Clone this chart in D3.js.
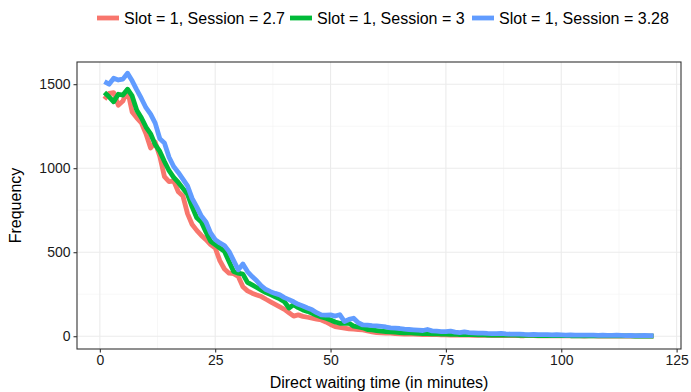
<!DOCTYPE html>
<html>
<head>
<meta charset="utf-8">
<script src="https://cdn.jsdelivr.net/npm/d3@7"></script>
<style>
  body { margin: 0; background: #fff; }
  #chart { width: 691px; height: 392px; }
  text { font-family: "Liberation Sans", Arial, sans-serif; }
</style>
</head>
<body>
<div id="chart"></div>
<script>
// minutes 1..120
const minutes = d3.range(1, 121);

const seriesNames = ["Slot = 1, Session = 2.7", "Slot = 1, Session = 3", "Slot = 1, Session = 3.28"];
const seriesColors = ["#F8766D", "#00BA38", "#619CFF"];

const session27 = [
  1410, 1445, 1450, 1375, 1400, 1465, 1335, 1300, 1270, 1205,
  1120, 1155, 1070, 950, 920, 925, 860, 835, 730, 665,
  630, 600, 575, 545, 525, 450, 400, 375, 372, 355,
  295, 270, 256, 245, 236, 220, 205, 190, 175, 160,
  140, 120, 127, 118, 113, 108, 102, 97, 85, 70,
  57, 52, 48, 44, 42, 40, 38, 32, 26, 21,
  20, 18, 18, 15, 14, 13, 14, 12, 11, 10,
  11, 9, 9, 8, 8, 7, 8, 6, 7, 6,
  5, 6, 5, 5, 4, 5, 4, 4, 3, 4,
  3, 3, 4, 3, 2, 3, 2, 3, 2, 2,
  2, 3, 2, 2, 1, 2, 2, 1, 2, 1,
  1, 2, 1, 1, 1, 1, 1, 1, 1, 1
];

const session3 = [
  1450, 1425, 1395, 1440, 1435, 1470, 1430, 1345, 1300, 1245,
  1205, 1140, 1100, 1040, 985, 945, 915, 880, 845, 770,
  705, 680, 620, 565, 545, 525, 505, 445, 385, 375,
  370, 320, 305, 290, 275, 260, 248, 235, 222, 205,
  168, 188, 170, 157, 148, 137, 125, 115, 107, 97,
  85, 77, 78, 77, 60, 55, 50, 40, 38, 34,
  30, 28, 26, 24, 22, 20, 21, 18, 17, 16,
  15, 14, 15, 13, 12, 11, 12, 10, 10, 9,
  9, 8, 9, 7, 8, 7, 6, 7, 6, 6,
  5, 6, 5, 5, 4, 5, 4, 4, 4, 3,
  4, 3, 3, 3, 2, 3, 3, 2, 3, 2,
  2, 2, 2, 2, 2, 1, 2, 1, 1, 1
];

const session328 = [
  1515, 1500, 1535, 1525, 1530, 1565, 1520, 1466, 1415, 1360,
  1322, 1268, 1175, 1150, 1065, 1010, 975, 935, 895, 820,
  770, 715, 680, 615, 575, 555, 540, 505, 450, 395,
  430, 385, 355, 330, 300, 278, 265, 255, 246, 230,
  218, 205, 190, 180, 168, 157, 140, 127, 125, 127,
  120, 128, 88, 100, 107, 80, 67, 66, 63, 61,
  58, 55, 50, 48, 46, 42, 40, 38, 36, 34,
  40, 32, 30, 28, 27, 30, 24, 22, 26, 21,
  20, 18, 19, 17, 16, 15, 17, 14, 13, 12,
  13, 11, 10, 11, 9, 10, 9, 8, 9, 8,
  7, 8, 7, 6, 7, 6, 6, 5, 6, 5,
  5, 6, 5, 4, 5, 4, 4, 5, 4, 4
];

const xTicks = [0, 25, 50, 75, 100, 125];
const yTicks = [0, 500, 1000, 1500];

const allSeries = [session27, session3, session328];

const W = 691, H = 392;
const margin = { top: 62, right: 10, bottom: 43, left: 77 };

const svg = d3.select("#chart").append("svg")
    .attr("width", W)
    .attr("height", H);

const x = d3.scaleLinear()
    .domain([-4.95, 125.95])
    .range([margin.left, W - margin.right]);

const y = d3.scaleLinear()
    .domain([-76, 1632])
    .range([H - margin.bottom, margin.top]);

// grid (minor then major)
const grid = svg.append("g");
const xMinor = d3.range(12.5, 125, 25);
const yMinor = [250, 750, 1250];

grid.selectAll(".xminor").data(xMinor).enter().append("line")
    .attr("x1", d => x(d)).attr("x2", d => x(d))
    .attr("y1", margin.top).attr("y2", H - margin.bottom)
    .attr("stroke", "#f2f2f2").attr("stroke-width", 0.6);
grid.selectAll(".yminor").data(yMinor).enter().append("line")
    .attr("y1", d => y(d)).attr("y2", d => y(d))
    .attr("x1", margin.left).attr("x2", W - margin.right)
    .attr("stroke", "#f2f2f2").attr("stroke-width", 0.6);
grid.selectAll(".xmajor").data(xTicks).enter().append("line")
    .attr("x1", d => x(d)).attr("x2", d => x(d))
    .attr("y1", margin.top).attr("y2", H - margin.bottom)
    .attr("stroke", "#ebebeb").attr("stroke-width", 1.1);
grid.selectAll(".ymajor").data(yTicks).enter().append("line")
    .attr("y1", d => y(d)).attr("y2", d => y(d))
    .attr("x1", margin.left).attr("x2", W - margin.right)
    .attr("stroke", "#ebebeb").attr("stroke-width", 1.1);

// lines
const line = d3.line()
    .x((d, i) => x(minutes[i]))
    .y(d => y(d));

svg.append("g").selectAll("path")
    .data(allSeries)
    .enter().append("path")
    .attr("d", d => line(d))
    .attr("fill", "none")
    .attr("stroke", (d, i) => seriesColors[i])
    .attr("stroke-width", 4.8)
    .attr("stroke-linejoin", "round")
    .attr("stroke-linecap", "butt");

// panel border
svg.append("rect")
    .attr("x", margin.left).attr("y", margin.top)
    .attr("width", W - margin.left - margin.right)
    .attr("height", H - margin.top - margin.bottom)
    .attr("fill", "none")
    .attr("stroke", "#333")
    .attr("stroke-width", 1.1);

// axes
const xAxis = svg.append("g")
    .attr("transform", `translate(0,${H - margin.bottom})`)
    .call(d3.axisBottom(x).tickValues(xTicks).tickSize(3.5).tickPadding(3));
const yAxis = svg.append("g")
    .attr("transform", `translate(${margin.left},0)`)
    .call(d3.axisLeft(y).tickValues(yTicks).tickFormat(d3.format("d")).tickSize(3.5).tickPadding(3));

[xAxis, yAxis].forEach(a => {
  a.select(".domain").remove();
  a.selectAll(".tick line").attr("stroke", "#333").attr("stroke-width", 1.1);
  a.selectAll(".tick text")
      .attr("fill", "#1a1a1a")
      .attr("font-size", "14px")
      .attr("font-family", "'Liberation Sans', Arial, sans-serif");
});

// axis titles
svg.append("text")
    .attr("x", (margin.left + W - margin.right) / 2)
    .attr("y", 388)
    .attr("text-anchor", "middle")
    .attr("font-size", "16px")
    .attr("fill", "#000")
    .text("Direct waiting time (in minutes)");

svg.append("text")
    .attr("transform", `translate(21,${(margin.top + H - margin.bottom) / 2}) rotate(-90)`)
    .attr("text-anchor", "middle")
    .attr("font-size", "16px")
    .attr("fill", "#000")
    .text("Frequency");

// legend
const legendX = [97, 290, 472];
const legend = svg.append("g");
seriesNames.forEach((name, i) => {
  const g = legend.append("g").attr("transform", `translate(${legendX[i]},18)`);
  g.append("line")
      .attr("x1", 0).attr("x2", 22)
      .attr("stroke", seriesColors[i])
      .attr("stroke-width", 4.8);
  g.append("text")
      .attr("x", 27)
      .attr("y", 5.5)
      .attr("font-size", "16px")
      .attr("fill", "#000")
      .text(name);
});
</script>
</body>
</html>
